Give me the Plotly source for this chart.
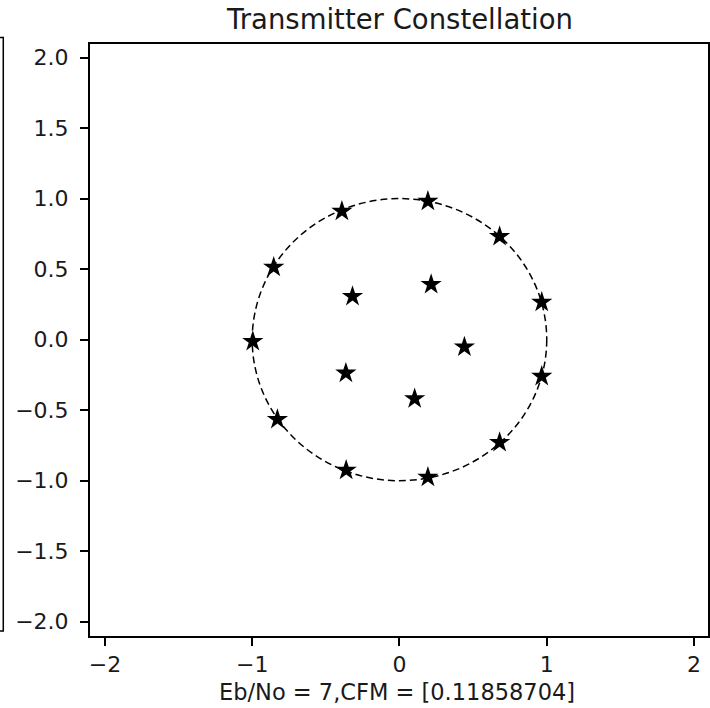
import plotly.graph_objects as go

# Constellation points (in-phase / quadrature)
outer_i = [0.193, -0.391, -0.854, -0.996, -0.829, -0.362, 0.193, 0.680, 0.966, 0.966, 0.680]
outer_q = [0.982, 0.911, 0.514, -0.012, -0.565, -0.926, -0.975, -0.729, -0.260, 0.266, 0.732]
inner_i = [-0.319, 0.215, 0.441, -0.364, 0.103]
inner_q = [0.307, 0.392, -0.052, -0.237, -0.418]

x_ticks = [-2, -1, 0, 1, 2]
y_ticks = [-2.0, -1.5, -1.0, -0.5, 0.0, 0.5, 1.0, 1.5, 2.0]
title_text = "Transmitter Constellation"
xlabel_text = "Eb/No = 7,CFM = [0.11858704]"

FONT = "DejaVu Sans"
W, H = 710, 708
L, R, T, B = 90, 0, 43.5, 72
pw, ph = W - L - R, H - T - B

fig = go.Figure()
fig.add_trace(go.Scatter(
    x=outer_i + inner_i, y=outer_q + inner_q, mode="markers",
    marker=dict(symbol="star", size=16, color="black",
                line=dict(width=0)),
    showlegend=False, hoverinfo="skip"))

# unit circle reference
fig.add_shape(type="circle", xref="x", yref="y", x0=-1, y0=-1, x1=1, y1=1,
              line=dict(color="black", width=1.5, dash="7px,4px"), layer="below")


def px_x(p):
    return (p - L) / pw


def px_y(p):
    return (H - B - p) / ph


# right border of the neighbouring panel
fig.add_shape(type="rect", xref="paper", yref="paper",
              x0=px_x(-20), x1=px_x(3), y0=px_y(631), y1=px_y(37),
              line=dict(color="black", width=1.5))

axis_common = dict(showgrid=False, zeroline=False, showline=True, mirror=True,
                   linecolor="black", linewidth=1.5, ticks="outside", ticklen=8,
                   tickwidth=1.5, tickcolor="black",
                   tickfont=dict(family=FONT, size=22, color="#1a1a1a"))

fig.update_xaxes(range=[-2.1015, 2.095], tickvals=x_ticks,
                 ticktext=[str(v).replace("-", "\u2212") for v in x_ticks], **axis_common)
# a three-per-em space after each label widens the gap to the tick marks
fig.update_yaxes(range=[-2.101, 2.096], tickvals=y_ticks,
                 ticktext=[f"{v:.1f}".replace("-", "\u2212") + "\u2004" for v in y_ticks],
                 **axis_common)

fig.add_annotation(text=title_text, xref="paper", yref="paper",
                   x=px_x(400.5), y=px_y(18), showarrow=False,
                   xanchor="center", yanchor="middle",
                   font=dict(family=FONT, size=27.5, color="#1a1a1a"))
fig.add_annotation(text=xlabel_text, xref="paper", yref="paper",
                   x=px_x(398), y=px_y(692), showarrow=False,
                   xanchor="center", yanchor="middle",
                   font=dict(family=FONT, size=22.5, color="#1a1a1a"))

fig.update_layout(width=W, height=H, margin=dict(l=L, r=R, t=T, b=B),
                  paper_bgcolor="white", plot_bgcolor="white")

fig.write_html("out.html")
